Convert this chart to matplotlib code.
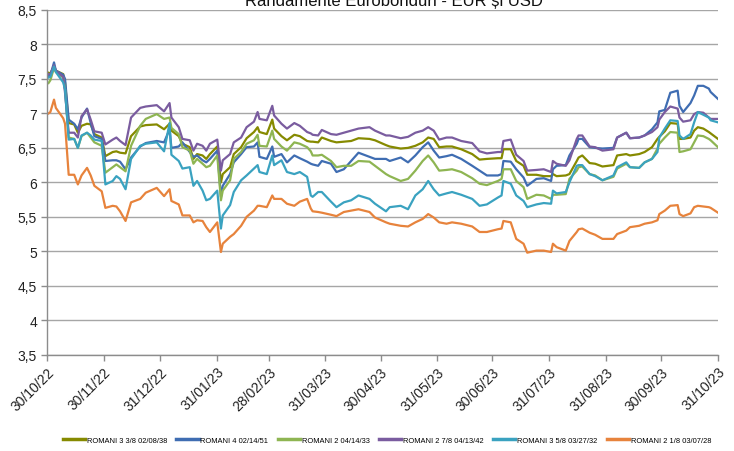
import matplotlib
matplotlib.use("Agg")
import matplotlib.pyplot as plt
import pandas as pd

title = "Randamente Eurobonduri - EUR și USD"

dates = [
    "2022-10-31", "2022-11-01", "2022-11-03", "2022-11-04", "2022-11-08", "2022-11-09",
    "2022-11-11", "2022-11-14", "2022-11-16", "2022-11-18", "2022-11-21", "2022-11-23",
    "2022-11-25", "2022-11-29", "2022-12-01", "2022-12-05", "2022-12-07", "2022-12-09",
    "2022-12-12", "2022-12-15", "2022-12-20", "2022-12-23", "2022-12-29", "2023-01-02",
    "2023-01-05", "2023-01-06", "2023-01-10", "2023-01-12", "2023-01-16", "2023-01-18",
    "2023-01-20", "2023-01-23", "2023-01-25", "2023-01-27", "2023-01-31", "2023-02-02",
    "2023-02-03", "2023-02-07", "2023-02-09", "2023-02-13", "2023-02-16", "2023-02-20",
    "2023-02-22", "2023-02-23", "2023-02-27", "2023-03-02", "2023-03-03", "2023-03-07",
    "2023-03-10", "2023-03-14", "2023-03-17", "2023-03-21", "2023-03-23", "2023-03-24",
    "2023-03-27", "2023-03-29", "2023-04-03", "2023-04-06", "2023-04-10", "2023-04-14",
    "2023-04-18", "2023-04-24", "2023-04-27", "2023-05-03", "2023-05-05", "2023-05-11",
    "2023-05-15", "2023-05-19", "2023-05-23", "2023-05-26", "2023-05-29", "2023-06-01",
    "2023-06-05", "2023-06-08", "2023-06-13", "2023-06-19", "2023-06-23", "2023-06-27",
    "2023-07-03", "2023-07-05", "2023-07-06", "2023-07-10", "2023-07-13", "2023-07-17",
    "2023-07-19", "2023-07-24", "2023-07-28", "2023-08-01", "2023-08-02", "2023-08-04",
    "2023-08-09", "2023-08-11", "2023-08-15", "2023-08-16", "2023-08-18", "2023-08-22",
    "2023-08-25", "2023-08-29", "2023-09-04", "2023-09-06", "2023-09-11", "2023-09-13",
    "2023-09-18", "2023-09-21", "2023-09-25", "2023-09-28", "2023-09-29", "2023-10-02",
    "2023-10-05", "2023-10-09", "2023-10-10", "2023-10-12", "2023-10-16", "2023-10-18",
    "2023-10-20", "2023-10-23", "2023-10-26", "2023-10-27", "2023-10-31",
]

romani_38 = [
    7.59, 7.58, 7.68, 7.62, 7.57, 7.45,
    6.86, 6.84, 6.72, 6.82, 6.85, 6.84,
    6.70, 6.65, 6.38, 6.44, 6.45, 6.43,
    6.42, 6.67, 6.81, 6.83, 6.84, 6.77,
    6.85, 6.75, 6.67, 6.56, 6.51, 6.34,
    6.41, 6.39, 6.34, 6.41, 6.52, 6.00,
    6.12, 6.22, 6.41, 6.51, 6.64, 6.73,
    6.80, 6.73, 6.70, 6.91, 6.78, 6.67,
    6.61, 6.69, 6.67, 6.60, 6.59, 6.59,
    6.58, 6.65, 6.60, 6.58, 6.59, 6.60,
    6.64, 6.63, 6.61, 6.54, 6.52, 6.49,
    6.50, 6.53, 6.58, 6.65, 6.63, 6.51,
    6.52, 6.52, 6.48, 6.41, 6.33, 6.34,
    6.35, 6.35, 6.48, 6.48, 6.31, 6.24,
    6.11, 6.11, 6.09, 6.09, 6.12, 6.09,
    6.10, 6.12, 6.31, 6.36, 6.39, 6.28,
    6.27, 6.23, 6.25, 6.39, 6.41, 6.39,
    6.41, 6.44, 6.51, 6.63, 6.66, 6.74,
    6.86, 6.85, 6.63, 6.63, 6.65, 6.75,
    6.80, 6.78, 6.73, 6.71, 6.63,
]

romani_51 = [
    7.54, 7.55, 7.74, 7.62, 7.56, 7.50,
    6.91, 6.85, 6.77, 6.94, 7.07, 6.86,
    6.67, 6.63, 6.31, 6.32, 6.32, 6.30,
    6.19, 6.36, 6.52, 6.57, 6.60, 6.58,
    6.77, 6.50, 6.52, 6.58, 6.44, 6.37,
    6.39, 6.32, 6.29, 6.34, 6.46, 5.79,
    5.95, 6.12, 6.29, 6.41, 6.51, 6.52,
    6.58, 6.37, 6.34, 6.52, 6.37, 6.41,
    6.29, 6.39, 6.35, 6.30, 6.27, 6.26,
    6.24, 6.31, 6.27, 6.15, 6.19, 6.31,
    6.43, 6.37, 6.34, 6.34, 6.31, 6.36,
    6.29, 6.39, 6.51, 6.58, 6.46, 6.36,
    6.38, 6.40, 6.34, 6.24, 6.17, 6.10,
    6.10, 6.12, 6.31, 6.30, 6.19, 6.07,
    5.95, 6.05, 6.06, 6.02, 6.19, 6.24,
    6.25, 6.39, 6.56, 6.63, 6.63, 6.51,
    6.50, 6.49, 6.50, 6.65, 6.72, 6.64,
    6.65, 6.68, 6.77, 6.87, 7.03, 7.05,
    7.30, 7.33, 7.11, 7.02, 7.15, 7.26,
    7.40, 7.40, 7.36, 7.31, 7.21,
]

romani_33 = [
    7.44, 7.48, 7.66, 7.60, 7.52, 7.35,
    6.65, 6.63, 6.50, 6.67, 6.72, 6.65,
    6.58, 6.53, 6.14, 6.22, 6.26, 6.22,
    6.16, 6.53, 6.82, 6.92, 6.99, 6.92,
    6.94, 6.79, 6.70, 6.51, 6.46, 6.27,
    6.34, 6.27, 6.22, 6.24, 6.39, 5.74,
    5.88, 6.03, 6.34, 6.44, 6.56, 6.61,
    6.69, 6.53, 6.52, 6.75, 6.63, 6.52,
    6.46, 6.58, 6.56, 6.51, 6.45, 6.39,
    6.39, 6.40, 6.31, 6.22, 6.24, 6.24,
    6.31, 6.30, 6.24, 6.12, 6.09, 6.02,
    6.05, 6.17, 6.31, 6.39, 6.29, 6.17,
    6.18, 6.19, 6.15, 6.06, 5.98, 5.96,
    6.02, 6.05, 6.19, 6.19, 6.02, 5.93,
    5.76, 5.82, 5.81, 5.76, 5.82, 5.82,
    5.83, 6.05, 6.17, 6.22, 6.23, 6.12,
    6.10, 6.03, 6.08, 6.20, 6.27, 6.22,
    6.21, 6.29, 6.34, 6.49, 6.56, 6.65,
    6.73, 6.72, 6.44, 6.45, 6.48, 6.58,
    6.68, 6.67, 6.63, 6.61, 6.51,
]

romani_42 = [
    7.57, 7.57, 7.70, 7.62, 7.53, 7.30,
    6.72, 6.72, 6.65, 6.96, 7.06, 6.91,
    6.74, 6.72, 6.55, 6.62, 6.65, 6.60,
    6.54, 6.94, 7.08, 7.10, 7.12, 7.03,
    7.15, 6.94, 6.80, 6.63, 6.61, 6.46,
    6.56, 6.53, 6.46, 6.56, 6.62, 6.17,
    6.32, 6.41, 6.58, 6.65, 6.80, 6.88,
    7.02, 6.92, 6.90, 7.11, 6.97, 6.85,
    6.78, 6.86, 6.82, 6.73, 6.71, 6.69,
    6.68, 6.76, 6.70, 6.69, 6.72, 6.75,
    6.78, 6.80, 6.75, 6.68, 6.68, 6.64,
    6.66, 6.72, 6.75, 6.80, 6.75, 6.62,
    6.65, 6.65, 6.60, 6.57, 6.45, 6.42,
    6.44, 6.44, 6.60, 6.62, 6.40, 6.31,
    6.17, 6.18, 6.19, 6.15, 6.31, 6.27,
    6.24, 6.32, 6.63, 6.68, 6.68, 6.52,
    6.51, 6.46, 6.48, 6.65, 6.72, 6.64,
    6.65, 6.68, 6.73, 6.80, 6.91, 7.02,
    7.10, 7.07, 6.94, 6.88, 6.90, 6.99,
    7.02, 7.01, 6.94, 6.92, 6.92,
]

romani_32 = [
    7.52, 7.53, 7.68, 7.60, 7.45, 7.35,
    6.62, 6.63, 6.50, 6.68, 6.72, 6.68,
    6.62, 6.60, 5.97, 6.02, 6.09, 6.05,
    5.90, 6.34, 6.53, 6.56, 6.58, 6.45,
    6.86, 6.40, 6.31, 6.20, 6.22, 5.95,
    6.02, 5.88, 5.74, 5.76, 5.88, 5.33,
    5.52, 5.67, 5.86, 6.03, 6.10, 6.20,
    6.25, 6.15, 6.12, 6.39, 6.25, 6.32,
    6.15, 6.12, 6.15, 6.08, 5.81, 5.79,
    5.86, 5.86, 5.72, 5.64, 5.71, 5.74,
    5.81, 5.76, 5.69, 5.58, 5.64, 5.66,
    5.61, 5.81, 5.90, 6.02, 5.90, 5.81,
    5.84, 5.86, 5.82, 5.76, 5.66, 5.68,
    5.78, 5.81, 6.02, 5.98, 5.81, 5.73,
    5.64, 5.68, 5.70, 5.69, 5.88, 5.84,
    5.86, 6.00, 6.24, 6.25, 6.25, 6.12,
    6.09, 6.03, 6.10, 6.22, 6.29, 6.22,
    6.21, 6.29, 6.34, 6.44, 6.65, 6.78,
    6.90, 6.89, 6.68, 6.63, 6.70, 6.87,
    7.02, 6.98, 6.94, 6.90, 6.87,
]

romani_28 = [
    7.00, 7.02, 7.20, 7.08, 6.93, 6.85,
    6.11, 6.11, 5.97, 6.10, 6.21, 6.10,
    5.95, 5.87, 5.63, 5.66, 5.65, 5.58,
    5.44, 5.71, 5.76, 5.85, 5.92, 5.80,
    5.90, 5.73, 5.68, 5.52, 5.52, 5.42,
    5.45, 5.44, 5.35, 5.28, 5.42, 4.99,
    5.11, 5.21, 5.25, 5.37, 5.50, 5.59,
    5.66, 5.66, 5.64, 5.81, 5.76, 5.76,
    5.69, 5.66, 5.72, 5.76, 5.62, 5.58,
    5.57, 5.56, 5.53, 5.51, 5.57, 5.59,
    5.61, 5.57, 5.49, 5.42, 5.40, 5.37,
    5.36, 5.42, 5.47, 5.54, 5.49, 5.42,
    5.40, 5.42, 5.40, 5.36, 5.28, 5.28,
    5.32, 5.33, 5.44, 5.42, 5.18, 5.11,
    4.98, 5.01, 5.01, 4.99, 5.11, 5.06,
    5.01, 5.15, 5.28, 5.32, 5.33, 5.27,
    5.24, 5.18, 5.18, 5.25, 5.30, 5.35,
    5.37, 5.40, 5.42, 5.45, 5.54, 5.59,
    5.66, 5.67, 5.54, 5.51, 5.55, 5.64,
    5.66, 5.65, 5.64, 5.63, 5.56,
]

series_names = [
    "ROMANI 3 3/8 02/08/38", "ROMANI 4 02/14/51", "ROMANI 2 04/14/33",
    "ROMANI 2 7/8 04/13/42", "ROMANI 3 5/8 03/27/32", "ROMANI 2 1/8 03/07/28",
]
series_values = [romani_38, romani_51, romani_33, romani_42, romani_32, romani_28]
colors = ["#868a00", "#3f6db2", "#8eb552", "#7a5c9f", "#3aa2c0", "#e7833c"]

tick_dates = [
    "2022-10-30", "2022-11-30", "2022-12-31", "2023-01-31", "2023-02-28", "2023-03-31",
    "2023-04-30", "2023-05-31", "2023-06-30", "2023-07-31", "2023-08-31", "2023-09-30",
    "2023-10-31",
]
y_ticks = [3.5, 4, 4.5, 5, 5.5, 6, 6.5, 7, 7.5, 8, 8.5]

plt.rcParams["font.family"] = ["Liberation Sans", "DejaVu Sans"]

fig = plt.figure(figsize=(7.34, 4.52), dpi=100)
ax = fig.add_axes([0.0636, 0.213, 0.9146, 0.7627])

x = pd.to_datetime(dates)
for name, vals, c in zip(series_names, series_values, colors):
    ax.plot(x, vals, color=c, lw=1.6, label=name, solid_joinstyle="round")

ax.set_ylim(3.5, 8.5)
ax.set_xlim(pd.Timestamp("2022-10-30"), pd.Timestamp("2023-10-31"))
ax.set_yticks(y_ticks)
ax.set_yticklabels([("%g" % v).replace(".", ",") for v in y_ticks], fontsize=10, color="#222222")
td = pd.to_datetime(tick_dates)
ax.set_xticks(td)
ax.set_xticklabels([d.strftime("%d/%m/%y") for d in td], rotation=45, ha="right",
                   rotation_mode="anchor", fontsize=10, color="#222222")

ax.grid(axis="y", color="#a6a6a6", lw=1.0)
ax.set_axisbelow(True)
for s in ["top", "right"]:
    ax.spines[s].set_visible(False)
for s in ["left", "bottom"]:
    ax.spines[s].set_color("#8c8c8c")
    ax.spines[s].set_linewidth(1.0)
ax.tick_params(axis="both", color="#8c8c8c", length=4, width=1.0, direction="out")
ax.tick_params(axis="x", pad=3)
ax.tick_params(axis="y", pad=3)

fig.text(0.537, 0.987, title, ha="center", va="baseline", fontsize=12, color="#111111")

leg = fig.legend(loc="center", bbox_to_anchor=(0.527, 0.024), ncol=6, frameon=False,
                 fontsize=5.4, handlelength=3.0, handletextpad=0.2, columnspacing=1.25,
                 borderaxespad=0)
for h in leg.legend_handles:
    h.set_linewidth(2.5)

fig.savefig("out.png", dpi=100)
